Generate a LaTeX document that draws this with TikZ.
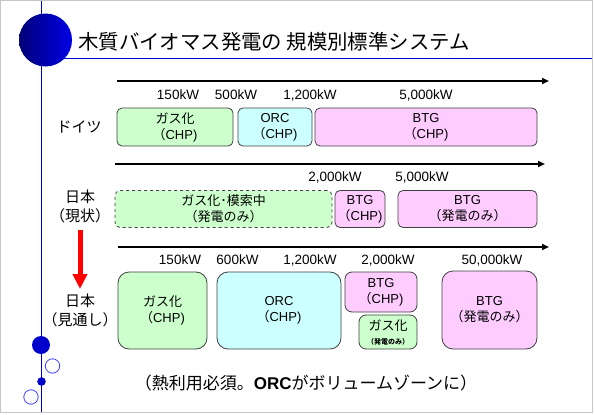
\documentclass[tikz,border=0pt]{standalone}
\usepackage{fontspec}
\setmainfont{Liberation Sans}
\newfontfamily\jp{Noto Sans CJK JP}
\usetikzlibrary{arrows.meta}
\definecolor{gfill}{RGB}{204,255,204}
\definecolor{cfill}{RGB}{204,255,255}
\definecolor{pfill}{RGB}{255,204,255}
\definecolor{tblue}{RGB}{0,0,204}
\definecolor{dblue}{RGB}{0,0,120}
\definecolor{bblue}{RGB}{0,0,230}
\begin{document}
\begin{tikzpicture}[x=1pt,y=-1pt,
  box/.style={draw=black!75, line width=0.8pt, rounded corners=5pt, align=center, inner sep=0pt, font=\fontsize{13}{16}\selectfont},
  gbox/.style={box, fill=gfill},
  cbox/.style={box, fill=cfill},
  pbox/.style={box, fill=pfill},
  kw/.style={font=\fontsize{13.5}{15}\selectfont, inner sep=0pt},
  rowlab/.style={font=\jp\fontsize{15}{19}\selectfont, align=center, inner sep=0pt},
  axisarrow/.style={line width=2.5pt, -{Triangle[length=7pt,width=6pt]}},
  opencirc/.style={draw=blue!75, line width=0.8pt, fill=white}]
\useasboundingbox (0,0) rectangle (595,415);
\draw[gray!45, line width=1pt] (0.5,0.5) rectangle (592,412);
% decorations
\coordinate (vt) at (41.5,1);
\coordinate (vb) at (41.5,412);
\draw[tblue, line width=0.8pt] (vt) -- (vb);
\coordinate (hl) at (60,58.5);
\coordinate (hr) at (592,58.5);
\draw[tblue, line width=1pt] (hl) -- (hr);
\shade[left color=dblue, right color=bblue] (45.5,40) circle (26.5);
\node[anchor=west, inner sep=0pt, font=\jp\fontsize{20.4}{23}\selectfont] (title) at (78,42) {木質バイオマス発電の 規模別標準システム};
\fill[tblue] (41,345) circle (9);
\draw[opencirc] (52.5,366) circle (7.2);
\fill[tblue] (41.5,381.5) circle (4.3);
\draw[opencirc] (31,397) circle (7.2);
% axes
\coordinate (a1s) at (117,81); \coordinate (a1e) at (549,81);
\coordinate (a2s) at (115,164); \coordinate (a2e) at (545,164);
\coordinate (a3s) at (118,247); \coordinate (a3e) at (549,247);
\draw[axisarrow] (a1s) -- (a1e);
\draw[axisarrow] (a2s) -- (a2e);
\draw[axisarrow] (a3s) -- (a3e);
% row labels
\node[rowlab] (lde) at (79,127) {ドイツ};
\node[rowlab] (ljp1) at (80,206) {日本\\（現状）};
\node[rowlab] (ljp2) at (80,310) {日本\\（見通し）};
\coordinate (rs) at (80,230);
\coordinate (re) at (80,289);
\draw[red, line width=5pt, -{Triangle[length=15pt,width=14pt]}] (rs) -- (re);
% row 1
\node[kw] (k11) at (178,95) {150kW};
\node[kw] (k12) at (236,95) {500kW};
\node[kw] (k13) at (310,95) {1,200kW};
\node[kw] (k14) at (426,95) {5,000kW};
\node[gbox, minimum width=116, minimum height=38] (b11) at (175,127) {{\jp ガス化}\\{\jp （}CHP)};
\node[cbox, minimum width=74, minimum height=38] (b12) at (275,127) {ORC\\{\jp （}CHP)};
\node[pbox, minimum width=222, minimum height=38] (b13) at (426,127) {BTG\\{\jp （}CHP)};
% row 2
\node[kw] (k21) at (335,177) {2,000kW};
\node[kw] (k22) at (422,177) {5,000kW};
\node[gbox, dashed, minimum width=217, minimum height=37] (b21) at (223.5,209) {{\jp ガス化･模索中}\\{\jp （発電のみ）}};
\node[pbox, minimum width=50, minimum height=37] (b22) at (360,209) {BTG\\{\jp （}CHP)};
\node[pbox, minimum width=139, minimum height=37] (b23) at (467.5,209) {BTG\\{\jp （発電のみ）}};
% row 3
\node[kw] (k31) at (180,260) {150kW};
\node[kw] (k32) at (237.5,260) {600kW};
\node[kw] (k33) at (310,260) {1,200kW};
\node[kw] (k34) at (388,260) {2,000kW};
\node[kw] (k35) at (492,260) {50,000kW};
\node[gbox, rounded corners=11pt, minimum width=89, minimum height=77] (b31) at (162.5,310.5) {{\jp ガス化}\\{\jp （}CHP)};
\node[cbox, rounded corners=11pt, minimum width=124, minimum height=77] (b32) at (279,310.5) {ORC\\{\jp （}CHP)};
\node[pbox, rounded corners=7pt, minimum width=72, minimum height=40] (b33) at (381,292) {BTG\\{\jp （}CHP)};
\node[gbox, rounded corners=7pt, minimum width=58, minimum height=34] (b34) at (388,332) {{\jp ガス化}\\[-2pt]{\jp\bfseries\fontsize{7}{8}\selectfont （発電のみ）}};
\node[pbox, rounded corners=11pt, minimum width=95, minimum height=78] (b35) at (489.5,310) {BTG\\{\jp （発電のみ）}};
% bottom note
\node[inner sep=0pt, font=\fontsize{17}{20}\selectfont] (note) at (306,383) {{\jp （熱利用必須。}\textbf{ORC}{\jp がボリュームゾーンに）}};
\end{tikzpicture}
\end{document}
